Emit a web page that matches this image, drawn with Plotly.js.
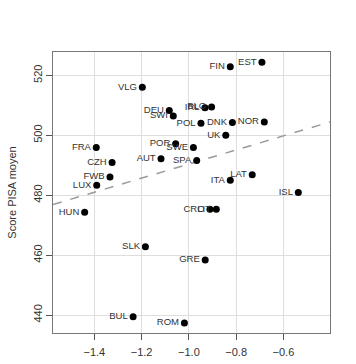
<!DOCTYPE html>
<html>
<head>
<meta charset="utf-8">
<script src="https://cdn.plot.ly/plotly-3.0.1.min.js"></script>
<style>html,body{margin:0;padding:0;background:#fff;}#chart{width:356px;height:364px;}</style>
</head>
<body>
<div id="chart"></div>
<script>
const countries = ["VLG","DEU","SWI","FRA","CZH","FWB","LUX","HUN","SLK","BUL","ROM","AUT","POR","SWE","SPA","IRL","BLG","POL","DNK","NOR","UK","FIN","EST","ITA","LAT","ISL","CRO","LIT","GRE"];
const xValues = [-1.197,-1.083,-1.066,-1.392,-1.325,-1.334,-1.390,-1.441,-1.184,-1.236,-1.019,-1.118,-1.056,-0.981,-0.967,-0.932,-0.904,-0.949,-0.816,-0.681,-0.844,-0.825,-0.691,-0.825,-0.732,-0.537,-0.911,-0.884,-0.931];
const yValues = [516.0,508.3,506.4,495.9,490.9,486.1,483.3,474.3,462.8,439.4,437.3,492.2,497.2,495.9,491.6,509.2,509.4,504.0,504.3,504.4,500.0,522.9,524.4,485.0,486.8,480.9,475.3,475.3,458.4];
const fitIntercept = 513.9;
const fitSlope = 23.5;
const xTicks = [-1.4,-1.2,-1.0,-0.8,-0.6];
const yTicks = [440,460,480,500,520];

const xRange = [-1.575,-0.403];
const yRange = [434,527.8];

const fitX = xRange.slice();
const fitY = fitX.map(x => fitIntercept + fitSlope * x);

const font = "Liberation Sans, Arial, sans-serif";

const traces = [
  {x: fitX, y: fitY, mode: "lines", line: {color: "#9a9a9a", width: 1.5, dash: "dash"}, hoverinfo: "skip", showlegend: false},
  {x: xValues, y: yValues, text: countries, mode: "markers+text", textposition: "middle left",
   textfont: {family: font, size: 9.5, color: "#333"},
   marker: {color: "#000", size: 7}, showlegend: false, cliponaxis: false}
];

const layout = {
  width: 356, height: 364,
  margin: {l: 53, r: 26, t: 52, b: 31},
  paper_bgcolor: "#fff", plot_bgcolor: "#fff",
  font: {family: font, size: 11, color: "#333"},
  xaxis: {range: xRange, tickvals: xTicks, ticktext: xTicks.map(v => (v<0?"\u2212":"") + Math.abs(v).toFixed(1)),
    showgrid: true, gridcolor: "#dedede", gridwidth: 1, zeroline: false,
    showline: true, linecolor: "#777", linewidth: 1, mirror: true,
    ticks: "outside", ticklen: 6, tickcolor: "#555", ticklabelstandoff: 3, tickfont: {size: 11, color: "#333"}},
  yaxis: {range: yRange, tickvals: yTicks, tickangle: -90,
    showgrid: true, gridcolor: "#dedede", gridwidth: 1, zeroline: false,
    showline: true, linecolor: "#777", linewidth: 1, mirror: true,
    ticks: "outside", ticklen: 6, tickcolor: "#555", tickfont: {size: 11, color: "#333"},
    title: {text: "Score PISA moyen", font: {size: 11, color: "#333"}, standoff: 12}}
};

Plotly.newPlot("chart", traces, layout, {displayModeBar: false, staticPlot: true});
</script>
</body>
</html>
